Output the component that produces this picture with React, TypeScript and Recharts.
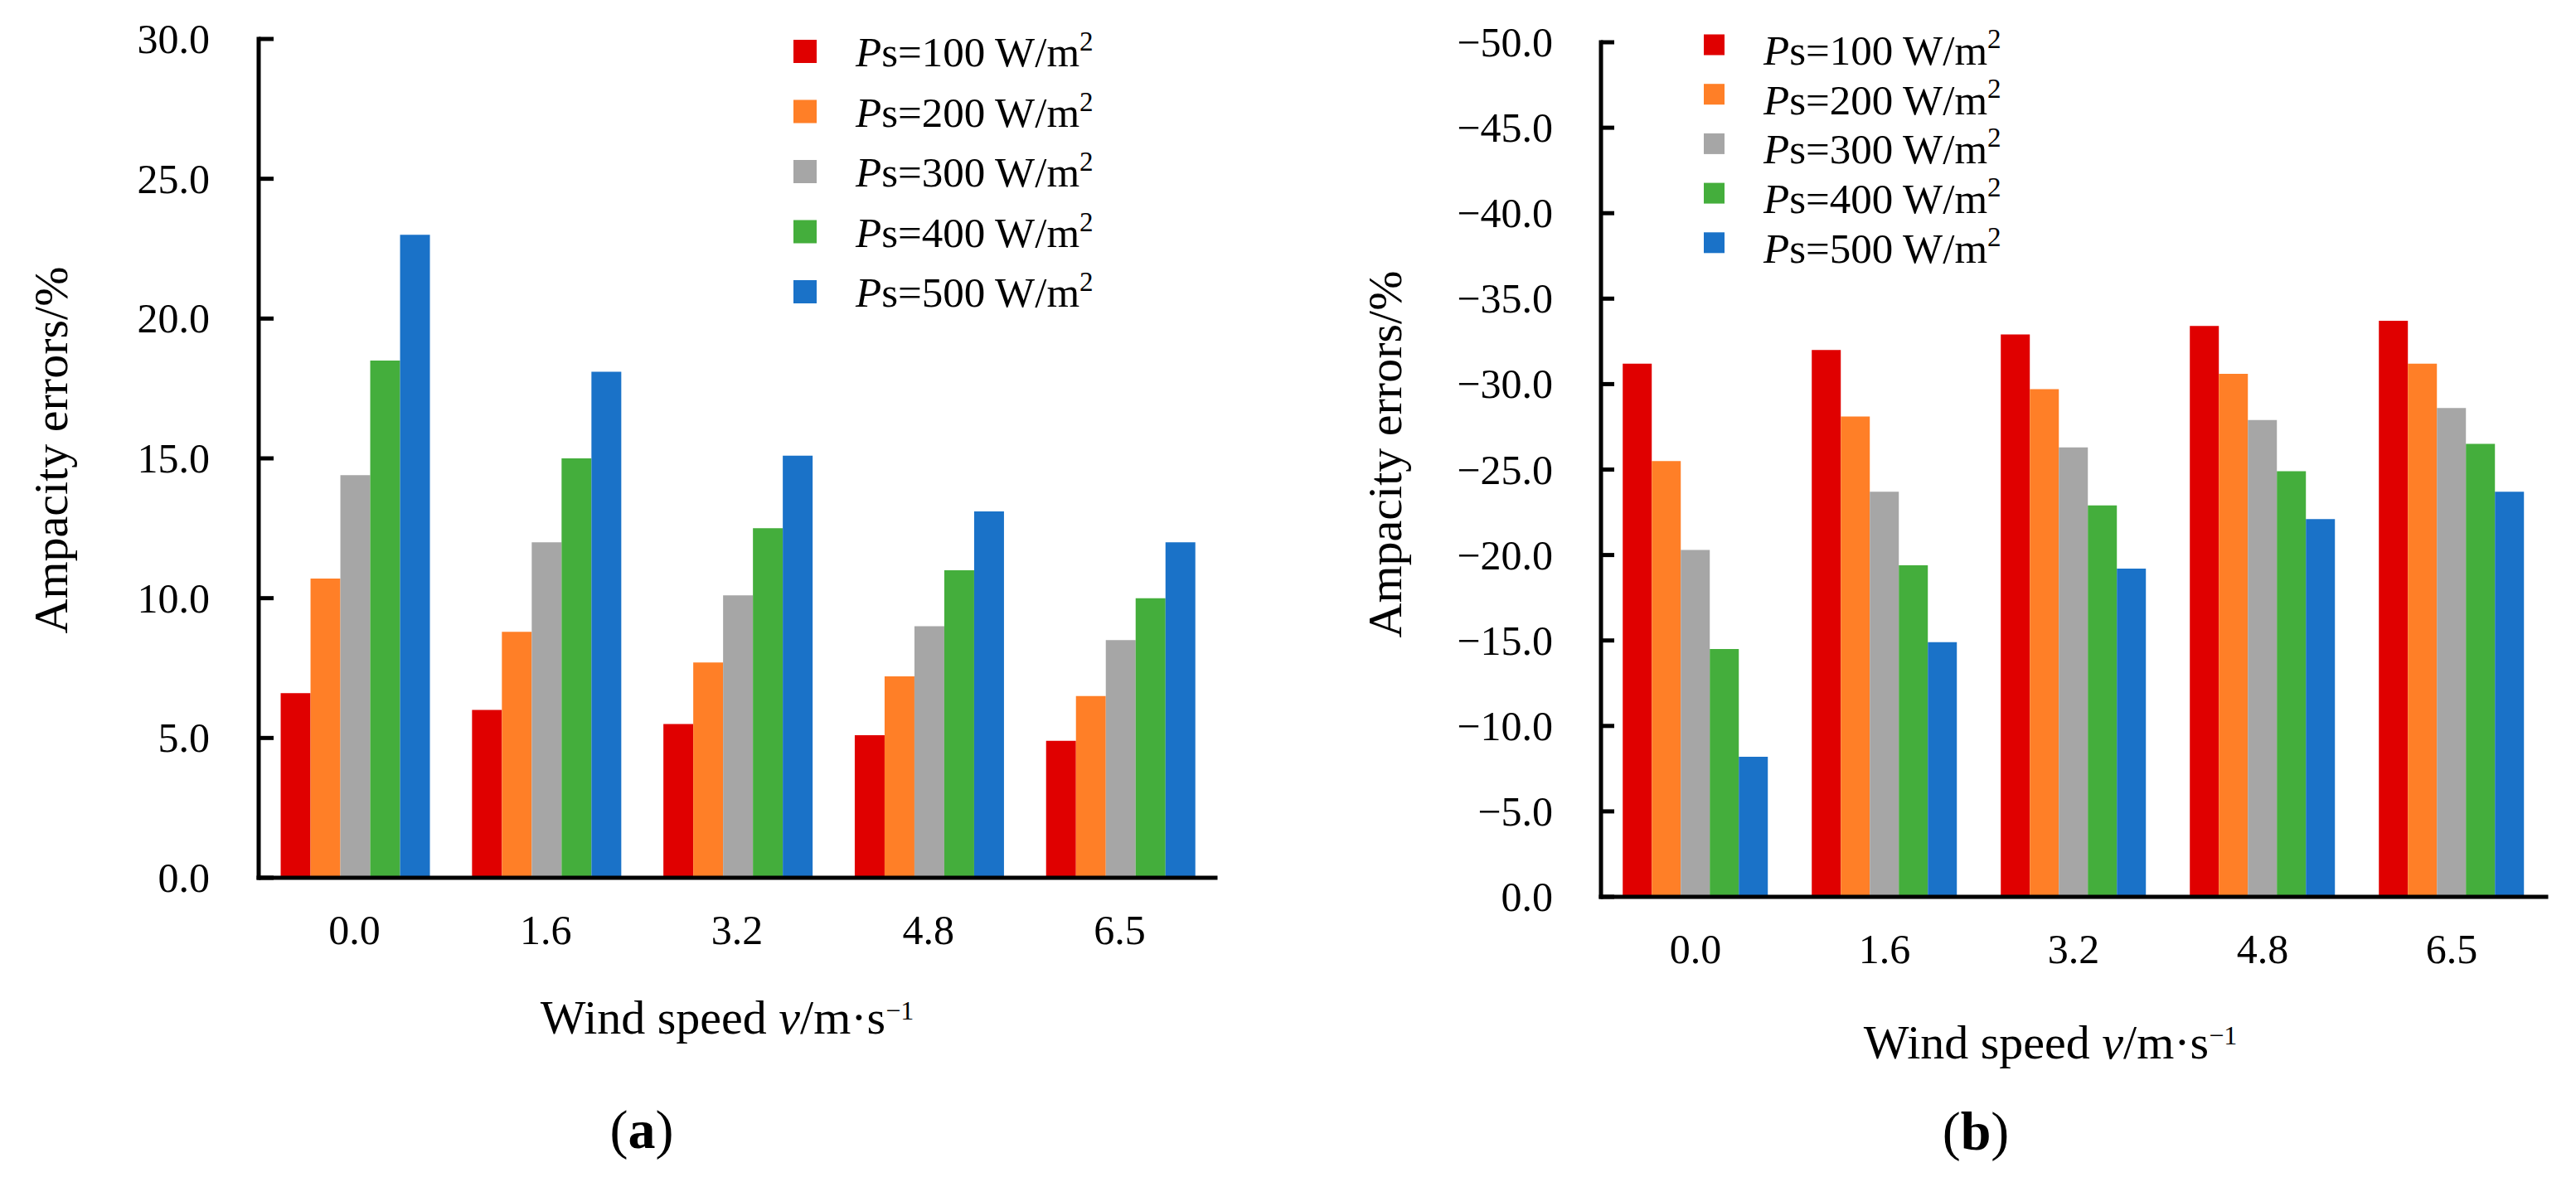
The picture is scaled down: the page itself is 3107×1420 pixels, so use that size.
import React from 'react';
import { BarChart, Bar, XAxis, YAxis, Legend } from 'recharts';

const FONT = "'Liberation Serif', 'Times New Roman', Times, serif";

// Categories
const windSpeeds = ['0.0', '1.6', '3.2', '4.8', '6.5'];

// Series
const seriesKeys = ['p100', 'p200', 'p300', 'p400', 'p500'];
const seriesNames = ['100', '200', '300', '400', '500'];
const seriesColors = ['#E00000', '#FF7F27', '#A6A6A6', '#44AE3C', '#1A72C8'];

// (a) ampacity errors, %
const errA100 = [6.6, 6.0, 5.5, 5.1, 4.9];
const errA200 = [10.7, 8.8, 7.7, 7.2, 6.5];
const errA300 = [14.4, 12.0, 10.1, 9.0, 8.5];
const errA400 = [18.5, 15.0, 12.5, 11.0, 10.0];
const errA500 = [23.0, 18.1, 15.1, 13.1, 12.0];

// (b) ampacity errors, %
const errB100 = [-31.2, -32.0, -32.9, -33.4, -33.7];
const errB200 = [-25.5, -28.1, -29.7, -30.6, -31.2];
const errB300 = [-20.3, -23.7, -26.3, -27.9, -28.6];
const errB400 = [-14.5, -19.4, -22.9, -24.9, -26.5];
const errB500 = [-8.2, -14.9, -19.2, -22.1, -23.7];

// Tick values
const ticksA = [0, 5, 10, 15, 20, 25, 30];
const ticksB = [0, -5, -10, -15, -20, -25, -30, -35, -40, -45, -50];

const buildRows = (cols: number[][]) =>
  windSpeeds.map((speed, i) => {
    const row: any = { speed };
    seriesKeys.forEach((k, j) => {
      row[k] = cols[j][i];
    });
    return row;
  });

const dataA = buildRows([errA100, errA200, errA300, errA400, errA500]);
const dataB = buildRows([errB100, errB200, errB300, errB400, errB500]);

const fmtA = (v: number) => v.toFixed(1);
const fmtB = (v: number) => (v === 0 ? '0.0' : '\u2212' + Math.abs(v).toFixed(1));

const makeYTick = (fmt: (v: number) => string, len: number, gap: number) => (props: any) => {
  const { x, y, payload } = props;
  return (
    <g>
      <line x1={x} x2={x + len} y1={y} y2={y} stroke="#000" strokeWidth={5} />
      <text x={x - gap} y={y + 17} textAnchor="end" fontSize={50} fontFamily={FONT} fill="#000">
        {fmt(payload.value)}
      </text>
    </g>
  );
};

const XTick = (props: any) => {
  const { x, y, payload } = props;
  return (
    <text x={x} y={y + 80} textAnchor="middle" fontSize={50} fontFamily={FONT} fill="#000">
      {payload.value}
    </text>
  );
};

type LegendCfg = { w: number; h: number; mx: number; ms: number; cy0: number; dy: number; tx: number; base: number; fs: number; supDy: number };

const makeLegend = (cfg: LegendCfg) => (props: any) => {
  const payload = props.payload || [];
  return (
    <svg width={cfg.w} height={cfg.h} style={{ display: 'block', overflow: 'visible' }}>
      {payload.map((entry: any, i: number) => {
        const cy = cfg.cy0 + i * cfg.dy;
        return (
          <g key={i}>
            <rect x={cfg.mx} y={cy - cfg.ms / 2} width={cfg.ms} height={cfg.ms} fill={entry.color} />
            <text x={cfg.tx} y={cy + cfg.base} fontSize={cfg.fs} fontFamily={FONT} fill="#000">
              <tspan fontStyle="italic">P</tspan>
              <tspan>{'s=' + entry.value + ' W/m'}</tspan>
              <tspan fontSize={cfg.fs * 0.65} dy={cfg.supDy}>2</tspan>
            </text>
          </g>
        );
      })}
    </svg>
  );
};

const legendA: LegendCfg = { w: 450, h: 380, mx: 17, ms: 28, cy0: 42, dy: 72.5, tx: 92, base: 18, fs: 51, supDy: -19 };
const legendB: LegendCfg = { w: 450, h: 330, mx: 12, ms: 25, cy0: 34, dy: 59.7, tx: 84, base: 24, fs: 51, supDy: -20 };

const axisLine = { stroke: '#000', strokeWidth: 5, strokeLinecap: 'square' as const };

const renderBars = () =>
  seriesKeys.map((k, j) => (
    <Bar key={k} dataKey={k} name={seriesNames[j]} fill={seriesColors[j]} isAnimationActive={false} />
  ));

const ChartA = () => (
  <BarChart
    width={1553}
    height={1420}
    data={dataA}
    margin={{ top: 47, right: 87, bottom: 261, left: 212 }}
    barCategoryGap="11.5%"
    barGap={0}
  >
    <XAxis
      dataKey="speed"
      type="category"
      height={100}
      axisLine={axisLine}
      tickLine={false}
      tickSize={0}
      tickMargin={0}
      tick={XTick}
      interval={0}
    />
    <YAxis
      type="number"
      domain={[0, 30]}
      ticks={ticksA}
      width={100}
      axisLine={axisLine}
      tickLine={false}
      tickSize={0}
      tickMargin={0}
      tick={makeYTick(fmtA, 18, 59)}
      interval={0}
      allowDataOverflow
    />
    <Legend
      layout="vertical"
      verticalAlign="middle"
      align="center"
      content={makeLegend(legendA)}
      wrapperStyle={{ left: 940, top: 20, width: 450, height: 380, margin: 0, padding: 0 }}
    />
    {renderBars()}
  </BarChart>
);

const ChartB = () => (
  <BarChart
    width={1554}
    height={1420}
    data={dataB}
    margin={{ top: 51, right: 36, bottom: 238, left: 278 }}
    barCategoryGap="11.5%"
    barGap={0}
  >
    <XAxis
      dataKey="speed"
      type="category"
      height={100}
      axisLine={axisLine}
      tickLine={false}
      tickSize={0}
      tickMargin={0}
      tick={XTick}
      interval={0}
    />
    <YAxis
      type="number"
      domain={[-50, 0]}
      reversed
      ticks={ticksB}
      width={100}
      axisLine={axisLine}
      tickLine={false}
      tickSize={0}
      tickMargin={0}
      tick={makeYTick(fmtB, 16, 58)}
      interval={0}
      allowDataOverflow
    />
    <Legend
      layout="vertical"
      verticalAlign="middle"
      align="center"
      content={makeLegend(legendB)}
      wrapperStyle={{ left: 490, top: 20, width: 450, height: 330, margin: 0, padding: 0 }}
    />
    {renderBars()}
  </BarChart>
);

const XTitle = ({ x, y }: { x: number; y: number }) => (
  <text x={x} y={y} textAnchor="middle" fontSize={58} fontFamily={FONT} fill="#000">
    <tspan>Wind speed </tspan>
    <tspan fontStyle="italic">v</tspan>
    <tspan>/m·s</tspan>
    <tspan fontSize={32} dy={-17}>{'\u22121'}</tspan>
  </text>
);

const YTitle = ({ x, y }: { x: number; y: number }) => (
  <text
    x={x}
    y={y}
    transform={`rotate(-90, ${x}, ${y})`}
    textAnchor="middle"
    fontSize={58}
    fontFamily={FONT}
    fill="#000"
  >
    Ampacity errors/%
  </text>
);

const PanelLabel = ({ x, y, letter }: { x: number; y: number; letter: string }) => (
  <text x={x} y={y} textAnchor="middle" fontSize={66} fontFamily={FONT} fill="#000">
    <tspan>(</tspan>
    <tspan fontWeight="bold">{letter}</tspan>
    <tspan>)</tspan>
  </text>
);

export default function App() {
  return (
    <div style={{ position: 'absolute', left: 0, top: 0, width: 3107, height: 1420, background: '#fff', overflow: 'hidden' }}>
      <div style={{ position: 'absolute', left: 0, top: 0 }}>
        <ChartA />
      </div>
      <div style={{ position: 'absolute', left: 1553, top: 0 }}>
        <ChartB />
      </div>
      <svg
        width={3107}
        height={1420}
        style={{ position: 'absolute', left: 0, top: 0, pointerEvents: 'none' }}
      >
        <YTitle x={81} y={543} />
        <XTitle x={877} y={1247} />
        <PanelLabel x={774} y={1385} letter="a" />
        <YTitle x={1690} y={548} />
        <XTitle x={2473} y={1277} />
        <PanelLabel x={2383} y={1387} letter="b" />
      </svg>
    </div>
  );
}
